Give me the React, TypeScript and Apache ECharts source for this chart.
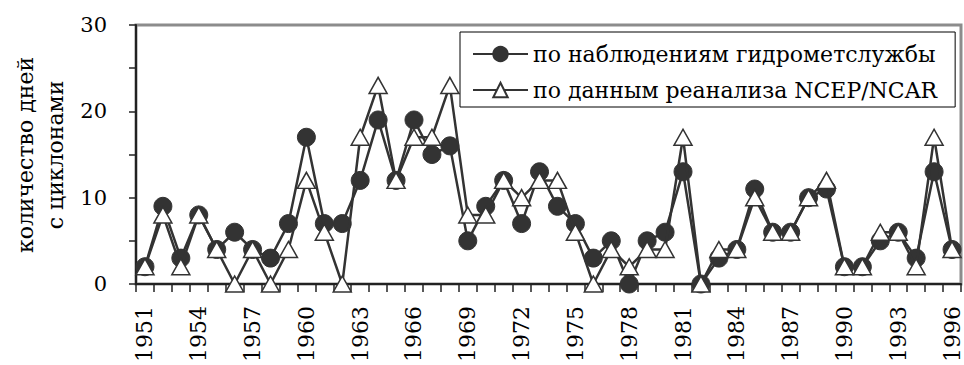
import React, { useEffect, useRef } from "react";
import * as echarts from "echarts";

const years = [
  "1951","1952","1953","1954","1955","1956","1957","1958","1959","1960",
  "1961","1962","1963","1964","1965","1966","1967","1968","1969","1970",
  "1971","1972","1973","1974","1975","1976","1977","1978","1979","1980",
  "1981","1982","1983","1984","1985","1986","1987","1988","1989","1990",
  "1991","1992","1993","1994","1995","1996",
];
const observed = [
  2, 9, 3, 8, 4, 6, 4, 3, 7, 17,
  7, 7, 12, 19, 12, 19, 15, 16, 5, 9,
  12, 7, 13, 9, 7, 3, 5, 0, 5, 6,
  13, 0, 3, 4, 11, 6, 6, 10, 11, 2,
  2, 5, 6, 3, 13, 4,
];
const reanalysis = [
  2, 8, 2, 8, 4, 0, 4, 0, 4, 12,
  6, 0, 17, 23, 12, 17, 17, 23, 8, 8,
  12, 10, 12, 12, 6, 0, 4, 2, 4, 4,
  17, 0, 4, 4, 10, 6, 6, 10, 12, 2,
  2, 6, 6, 2, 17, 4,
];
const seriesNames = ["по наблюдениям гидрометслужбы", "по данным реанализа NCEP/NCAR"];
const yAxisTitle = "количество дней\nс циклонами";

const FONT = "'DejaVu Serif', 'Liberation Serif', serif";

export default function App() {
  const ref = useRef<HTMLDivElement>(null);
  useEffect(() => {
    if (!ref.current) return;
    const chart = echarts.init(ref.current, null, { renderer: "svg" });
    chart.setOption({
      animation: false,
      backgroundColor: "#fff",
      grid: {
        left: 136, right: 3, top: 25, bottom: 80,
        show: true, borderColor: "#8c8c8c", borderWidth: 3, backgroundColor: "#fff",
      },
      graphic: [
        {
          type: "text",
          x: 40,
          y: 155,
          rotation: Math.PI / 2,
          style: {
            text: yAxisTitle,
            font: `22px ${FONT}`,
            fill: "#000",
            align: "center",
            verticalAlign: "middle",
            lineHeight: 30,
          },
        },
      ],
      legend: {
        orient: "vertical",
        left: 460, top: 32,
        backgroundColor: "#fff",
        borderColor: "#000", borderWidth: 1, borderRadius: 0,
        padding: [11, 18, 6, 12],
        itemWidth: 55, itemHeight: 18, itemGap: 14,
        textStyle: { fontFamily: FONT, fontSize: 22, lineHeight: 22, color: "#000" },
        data: seriesNames,
      },
      xAxis: {
        type: "category",
        data: years,
        boundaryGap: true,
        axisLine: { show: true, lineStyle: { color: "#222", width: 2 } },
        axisTick: { show: true, interval: 0, length: 8, lineStyle: { color: "#222", width: 1.5 } },
        axisLabel: {
          interval: 2, rotate: 90, margin: 22,
          fontFamily: FONT, fontSize: 22, color: "#000",
        },
        splitLine: { show: false },
      },
      yAxis: {
        type: "value",
        min: 0, max: 30, interval: 5,
        axisLine: { show: true, lineStyle: { color: "#222", width: 2 } },
        axisTick: { show: true, length: 7, lineStyle: { color: "#222", width: 1.5 } },
        axisLabel: {
          fontFamily: FONT, fontSize: 21, color: "#000", margin: 29,
          formatter: (v: number) => (v % 10 === 0 ? String(v) : ""),
        },
        splitLine: { show: false },
      },
      series: [
        {
          name: seriesNames[0],
          type: "line",
          data: observed,
          showAllSymbol: true,
          symbol: "circle",
          symbolSize: 18,
          lineStyle: { color: "#333", width: 2.5 },
          itemStyle: { color: "#333", borderColor: "#333", borderWidth: 1 },
          z: 2,
        },
        {
          name: seriesNames[1],
          type: "line",
          data: reanalysis,
          showAllSymbol: true,
          symbol: "triangle",
          symbolSize: [18, 16],
          lineStyle: { color: "#333", width: 2.5 },
          itemStyle: { color: "#fff", borderColor: "#333", borderWidth: 1.5 },
          z: 3,
        },
      ],
    });
    return () => chart.dispose();
  }, []);
  return (
    <div
      ref={ref}
      style={{ position: "fixed", left: 0, top: 0, width: 964, height: 365 }}
    />
  );
}
